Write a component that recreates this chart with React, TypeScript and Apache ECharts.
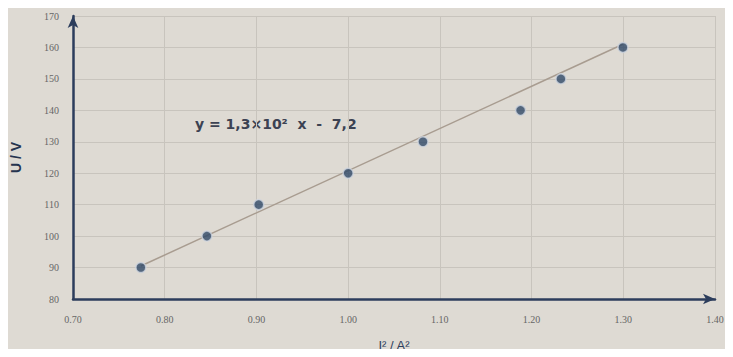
import React, { useEffect, useRef } from "react";
import * as echarts from "echarts";

const currentSquared = [0.774, 0.846, 0.9025, 1.0, 1.0816, 1.188, 1.232, 1.2996];
const voltage = [90, 100, 110, 120, 130, 140, 150, 160];
const trendStart = [0.774, 90.5];
const trendEnd = [1.2996, 161];
const equationLabel = "y = 1,3×10²  x  -  7,2";

export default function App() {
  const ref = useRef<HTMLDivElement>(null);
  useEffect(() => {
    const chart = echarts.init(ref.current!, null, { renderer: "svg" });
    const axisColor = "#2c3d5c";
    chart.setOption({
      animation: false,
      backgroundColor: "#dedad3",
      grid: { left: 73, right: 18, top: 16, bottom: 57 },
      xAxis: {
        type: "value",
        min: 0.7,
        max: 1.4,
        interval: 0.1,
        name: "I² / A²",
        nameLocation: "middle",
        nameGap: 40,
        nameTextStyle: { color: "#2c3d5c", fontSize: 13, fontFamily: "Liberation Sans" },
        axisLine: { lineStyle: { color: axisColor, width: 2.5 }, symbol: ["none", "arrow"], symbolSize: [8, 12] },
        axisTick: { show: false },
        axisLabel: { color: "#666", fontSize: 10, margin: 15, formatter: (v: number) => v.toFixed(2), fontFamily: "Liberation Serif" },
        splitLine: { show: true, lineStyle: { color: "#c8c4bd", width: 1 } },
      },
      yAxis: {
        type: "value",
        min: 80,
        max: 170,
        interval: 10,
        name: "U / V",
        nameLocation: "middle",
        nameGap: 50,
        nameRotate: 90,
        nameTextStyle: { color: "#26344f", fontSize: 14, fontWeight: "bold", fontFamily: "Liberation Sans" },
        axisLine: { show: true, lineStyle: { color: axisColor, width: 2.5 }, symbol: ["none", "arrow"], symbolSize: [8, 12] },
        axisTick: { show: false },
        axisLabel: { color: "#666", fontSize: 10, margin: 14, fontFamily: "Liberation Serif" },
        splitLine: { show: true, lineStyle: { color: "#c8c4bd", width: 1 } },
      },
      series: [
        {
          type: "line",
          data: [trendStart, trendEnd],
          showSymbol: false,
          lineStyle: { color: "#a89c90", width: 1.5 },
          silent: true,
          z: 1,
        },
        {
          type: "scatter",
          data: currentSquared.map((x, i) => [x, voltage[i]]),
          symbolSize: 10,
          itemStyle: { color: "#2f4868", borderColor: "#cfd6e0", borderWidth: 1.5 },
          z: 3,
        },
      ],
      graphic: [
        {
          type: "text",
          left: 195,
          top: 117,
          style: { text: equationLabel, fill: "#3c4252", font: "bold 14px 'DejaVu Sans'" },
        },
      ],
    });
    return () => chart.dispose();
  }, []);
  return <div ref={ref} style={{ width: 733, height: 357, margin: -8 }} />;
}
